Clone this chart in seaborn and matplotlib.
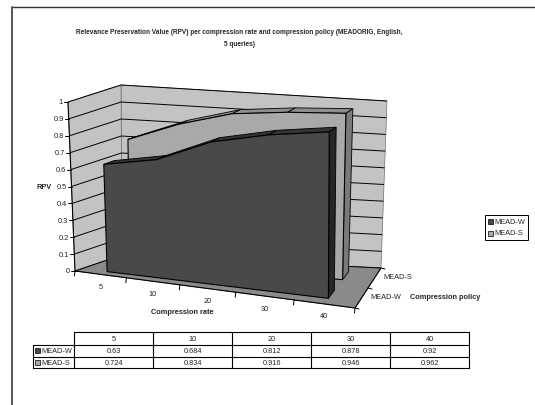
import numpy as np
import matplotlib
matplotlib.use("Agg")
import matplotlib.pyplot as plt
import seaborn as sns

# ---- data -------------------------------------------------------------
rates = ["5", "10", "20", "30", "40"]
policies = ["MEAD-W", "MEAD-S"]
mead_w = [0.63, 0.684, 0.812, 0.878, 0.92]
mead_s = [0.724, 0.834, 0.916, 0.946, 0.962]
rpv_ticks = [0, 0.1, 0.2, 0.3, 0.4, 0.5, 0.6, 0.7, 0.8, 0.9, 1]
rpv_labels = ["0", "0.1", "0.2", "0.3", "0.4", "0.5", "0.6", "0.7", "0.8", "0.9", "1"]

title_lines = ["Relevance Preservation Value (RPV) per compression rate and compression policy "
               "(MEADORIG, English,", "5 queries)"]

sns.set_theme(style="white")
plt.rcParams["font.family"] = ["Liberation Sans", "DejaVu Sans"]

W, H = 535, 406
fig = plt.figure(figsize=(W / 100, H / 100), dpi=100)
ax = fig.add_axes([0, 0, 1, 1])
ax.set_xlim(0, W)
ax.set_ylim(H, 0)
ax.axis("off")

palette = {"MEAD-W": ("#494949", "#333333", "#262626"),
           "MEAD-S": ("#a9a9a9", "#8e8e8e", "#7a7a7a")}
WALL = "#c3c3c3"
FLOOR = "#8a8a8a"

# ---- 3-D box -> page projection (x: category span, y: RPV, z: depth) ----
box = np.zeros((2, 2, 2, 2))
box[0, 0, 0] = (75, 272)
box[0, 1, 0] = (68, 103)
box[1, 0, 0] = (355, 309)
box[1, 1, 0] = (356, 124)
box[0, 0, 1] = (122, 256)
box[0, 1, 1] = (121, 86)
box[1, 0, 1] = (381, 269)
box[1, 1, 1] = (387, 102)
K = -0.102  # foreshortening along the category axis


def proj(x, y, z):
    g = x * (1 + K) / (1 + K * x)
    out = np.zeros(2)
    for a, wa in ((0, 1 - g), (1, g)):
        for b, wb in ((0, 1 - y), (1, y)):
            for d, wd in ((0, 1 - z), (1, z)):
                out += wa * wb * wd * box[a, b, d]
    return out


def poly(pts3, color, ec="black", lw=0.6, z=1):
    pts = np.array([proj(*p) for p in pts3])
    ax.fill(pts[:, 0], pts[:, 1], facecolor=color, edgecolor=ec, linewidth=lw,
            zorder=z, joinstyle="miter")


def line3(p0, p1, color="black", lw=0.6, z=2):
    a, b = proj(*p0), proj(*p1)
    ax.plot([a[0], b[0]], [a[1], b[1]], color=color, lw=lw, zorder=z,
            solid_capstyle="butt")


# walls and floor
poly([(0, 0, 1), (1, 0, 1), (1, 1, 1), (0, 1, 1)], WALL, ec="#707070", lw=0.5, z=1)
poly([(0, 0, 0), (0, 0, 1), (0, 1, 1), (0, 1, 0)], WALL, ec="#707070", lw=0.5, z=1)
poly([(0, 0, 0), (1, 0, 0), (1, 0, 1), (0, 0, 1)], FLOOR, ec="#606060", lw=0.5, z=1)

# RPV gridlines on the side and back walls, ticks and labels
for t, lab in zip(rpv_ticks, rpv_labels):
    line3((0, t, 0), (0, t, 1), lw=0.7, z=2)
    line3((0, t, 1), (1, t, 1), lw=0.7, z=2)
    px, py = proj(0, t, 0)
    ax.plot([px - 4, px], [py, py], color="black", lw=0.7, zorder=2)
    ax.text(px - 5, py, lab, ha="right", va="center", fontsize=5.3, color="#222222")
line3((0, 0, 0), (0, 1, 0), lw=0.8, z=2)
ax.text(44, 188, "RPV", ha="center", va="center", fontsize=5.3, fontweight="bold")

# category axis along the front edge of the floor
n = len(rates)
line3((0, 0, 0), (1, 0, 0), lw=0.8, z=2)
for b in range(n + 1):
    px, py = proj(b / n, 0, 0)
    ax.plot([px, px - 0.5], [py, py + 5], color="black", lw=0.7, zorder=2)
for i, lab in enumerate(rates):
    px, py = proj((i + 0.5) / n, 0, 0)
    ax.text(px, py + 12, lab, ha="center", va="center", fontsize=5.3, color="#222222")
ax.text(182, 313, "Compression rate", ha="center", va="center", fontsize=5.3,
        fontweight="bold")

# depth axis along the right edge of the floor
line3((1, 0, 0), (1, 0, 1), lw=0.8, z=2)
for d in (0, 0.5, 1):
    px, py = proj(1, 0, d)
    ax.plot([px, px + 4], [py, py + 1], color="black", lw=0.7, zorder=2)
for s, lab in enumerate(policies):
    px, py = proj(1, 0, s * 0.5 + 0.25)
    ax.text(px + 9, py - 1, lab, ha="left", va="center", fontsize=5.3, color="#222222")
ax.text(445, 298, "Compression policy", ha="center", va="center", fontsize=5.3,
        fontweight="bold")

# 3-D area series, back one first
series = {"MEAD-W": mead_w, "MEAD-S": mead_s}
xs = [(i + 0.5) / n for i in range(n)]
for s in (1, 0):
    name = policies[s]
    vals = series[name]
    front, top, side = palette[name]
    zf, zb = s * 0.5 + 0.15, s * 0.5 + 0.36
    zo = 3 + (1 - s) * 3
    for i in range(n - 1):
        poly([(xs[i], vals[i], zf), (xs[i + 1], vals[i + 1], zf),
              (xs[i + 1], vals[i + 1], zb), (xs[i], vals[i], zb)], top, z=zo)
    poly([(xs[-1], 0, zf), (xs[-1], vals[-1], zf), (xs[-1], vals[-1], zb),
          (xs[-1], 0, zb)], side, z=zo)
    face = [(x, v, zf) for x, v in zip(xs, vals)] + [(xs[-1], 0, zf), (xs[0], 0, zf)]
    poly(face, front, lw=0.8, z=zo + 1)

# title
for k, line in enumerate(title_lines):
    ax.text(239, 33 + k * 12, line, ha="center", va="center", fontsize=4.7,
            fontweight="bold")

# legend
ax.add_patch(plt.Rectangle((485, 216), 43, 25, facecolor="white", edgecolor="black",
                           lw=0.7, zorder=5))
for k, name in enumerate(policies):
    y = 222.5 + k * 11.5
    ax.add_patch(plt.Rectangle((487.5, y - 2.5), 5, 5, facecolor=palette[name][0],
                               edgecolor="black", lw=0.5, zorder=6))
    ax.text(494.5, y, name, ha="left", va="center", fontsize=5.3, zorder=6)

# data table below the chart
tab_left, lab_left, col_w = 74, 33, 79.06
rows_y = [332.7, 345.7, 357.7, 369.3]
right = tab_left + col_w * n
ax.plot([tab_left, right], [rows_y[0]] * 2, color="black", lw=0.8)
for y in rows_y[1:]:
    ax.plot([lab_left, right], [y, y], color="black", lw=0.8)
ax.plot([lab_left, lab_left], [rows_y[1], rows_y[-1]], color="black", lw=0.8)
for c in range(n + 1):
    x = tab_left + c * col_w
    ax.plot([x, x], [rows_y[0], rows_y[-1]], color="black", lw=0.8)
for c, lab in enumerate(rates):
    ax.text(tab_left + (c + 0.5) * col_w, (rows_y[0] + rows_y[1]) / 2, lab,
            ha="center", va="center", fontsize=5.3)
for r, name in enumerate(policies):
    yc = (rows_y[r + 1] + rows_y[r + 2]) / 2
    ax.add_patch(plt.Rectangle((35, yc - 2.3), 4.6, 4.6, facecolor=palette[name][0],
                               edgecolor="black", lw=0.5))
    ax.text(41, yc, name, ha="left", va="center", fontsize=5.3)
    for c, v in enumerate(series[name]):
        ax.text(tab_left + (c + 0.5) * col_w, yc, f"{v:g}", ha="center", va="center",
                fontsize=5.3)

# page frame
ax.plot([12, W], [8, 8], color="#333333", lw=1.0)
ax.plot([12, 12], [8, H], color="#555555", lw=1.4)

fig.savefig("out.png", dpi=100)
